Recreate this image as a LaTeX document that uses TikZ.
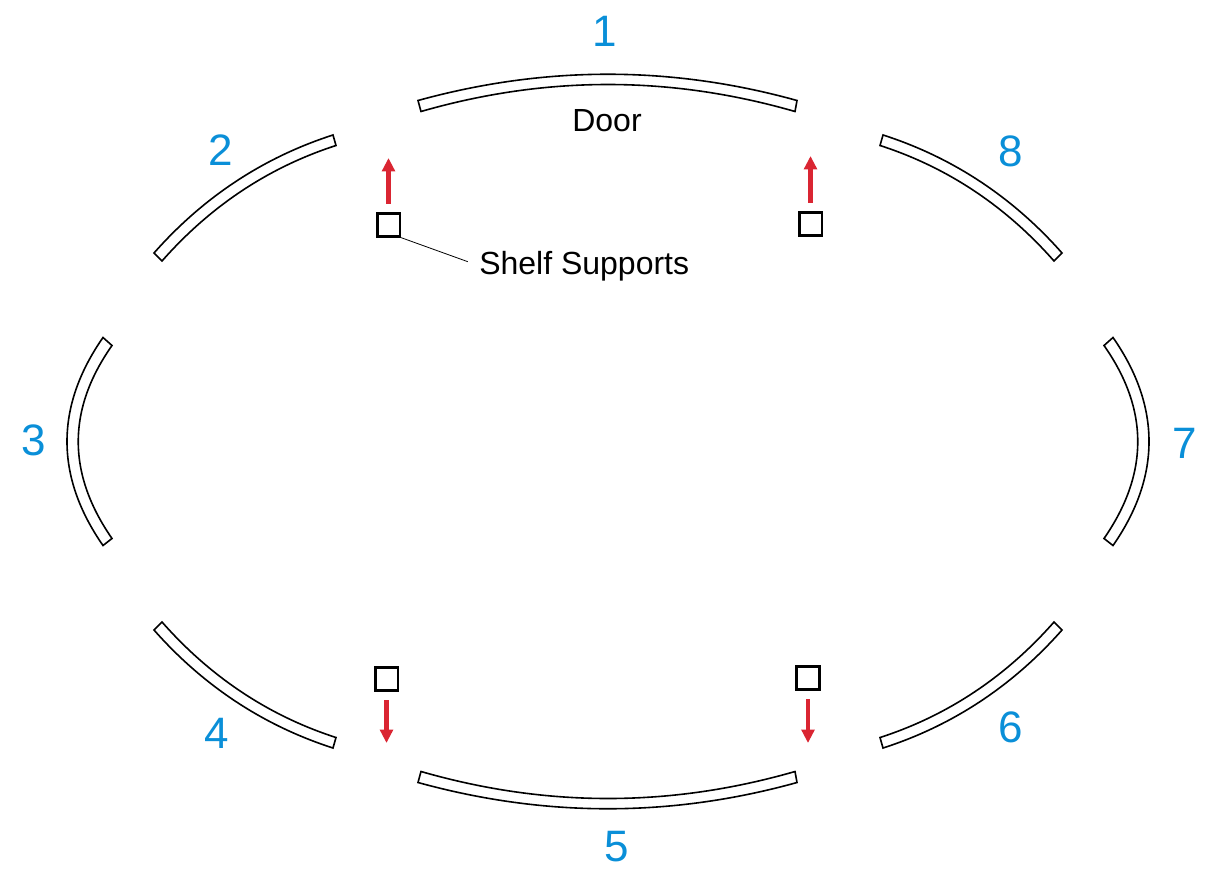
\documentclass[tikz,border=0pt]{standalone}
\usepackage{fontspec}
\setmainfont{Liberation Sans}
\usetikzlibrary{arrows.meta}

\definecolor{numblue}{RGB}{10,143,216}
\definecolor{pullred}{RGB}{218,37,50}

\tikzset{
    shelfband/.style={draw=black, line width=1.2pt, line join=miter},
    shelfsup/.style={draw=black, line width=2pt, minimum size=17pt, inner sep=0pt},
    pullarrow/.style={-{Triangle[width=9.5pt, length=10pt]}, draw=pullred, line width=3.2pt, shorten <=6.5pt},
    numlabel/.style={anchor=base, text=numblue, font=\fontsize{33}{33}\selectfont, inner sep=0pt},
    textlabel/.style={text=black, font=\fontsize{24}{24}\selectfont, inner sep=0pt}
}

\begin{document}
\begin{tikzpicture}[x=0.75pt, y=-0.75pt]
\useasboundingbox (0,0) rectangle (1209,878);

% Top and bottom bands
\foreach \s in {1,-1} {
    \begin{scope}[shift={(608,441.5)}, yscale=\s]
        \draw[shelfband] (-190,-341) .. controls (-63,-376) and (63,-376) .. (189,-341)
            -- (187,-330) .. controls (62,-366) and (-62,-366) .. (-187,-330) -- cycle;
    \end{scope}
}

% Left and right bands
\foreach \s in {1,-1} {
    \begin{scope}[shift={(608,441.5)}, xscale=\s]
        \draw[shelfband] (-505,-104) .. controls (-553,-35) and (-553,35) .. (-505,104)
            -- (-496,97) .. controls (-541,32) and (-541,-32) .. (-496,-96) -- cycle;
    \end{scope}
}

% Corner bands
\foreach \sx/\sy in {1/1, -1/1, 1/-1, -1/-1} {
    \begin{scope}[shift={(608,441.5)}, xscale=\sx, yscale=\sy]
        \draw[shelfband] (-454,-188.5) .. controls (-405,-244) and (-345,-284) .. (-275,-306.5)
            -- (-272,-296) .. controls (-340,-274) and (-398,-235) .. (-446,-180.5) -- cycle;
    \end{scope}
}

% Supports and their arrows
\foreach \nm/\x/\y/\ty in {a/388.5/225/158, b/810.5/224/156, c/386.5/679/743, d/808/678/743} {
    \node[shelfsup] (sup\nm) at (\x,\y) {};
    \coordinate (tip\nm) at (\x,\ty);
    \draw[pullarrow] (sup\nm) -- (tip\nm);
}

% Numbers
\foreach \nm/\x/\y in {1/605/46, 2/221/165, 3/34/455, 4/217/748, 5/617/861, 6/1011/742, 7/1185/458, 8/1011/166} {
    \node[numlabel] (num\nm) at (\x,\y) {\nm};
}

\node[textlabel, anchor=base] (door) at (607,131) {Door};
\node[textlabel, anchor=base west] (shelves) at (479,274) {Shelf Supports};
\draw[line width=0.6pt, shorten >=9pt] (supa.south east) -- (shelves.west);
\end{tikzpicture}
\end{document}
